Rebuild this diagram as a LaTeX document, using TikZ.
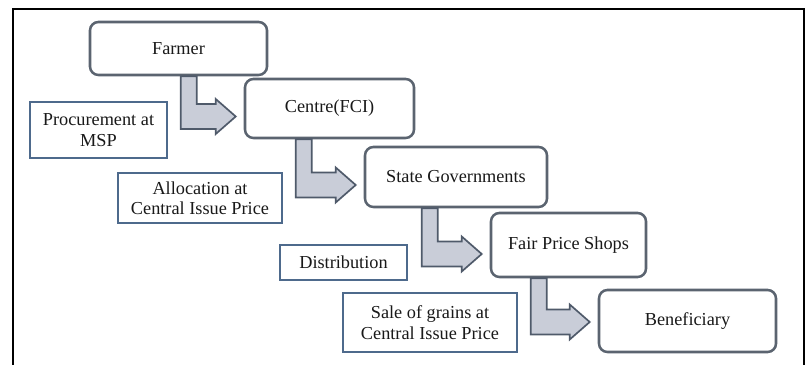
\documentclass[tikz,border=0pt]{standalone}
\usepackage{fontspec}
\setmainfont{Liberation Serif}
\newfontfamily\flowfont{Liberation Serif}
\usetikzlibrary{calc}
\definecolor{boxline}{HTML}{5B6470}
\definecolor{noteline}{HTML}{4E6A8C}
\definecolor{arrowline}{HTML}{4F5A6A}
\definecolor{arrowfill}{HTML}{C9CDD8}
\newcommand{\px}{0.025cm}
% bent arrow: source, target, shaft offset from source, height offset at target
\newcommand{\bentarrow}[4]{%
  \path ($(#1.south west)+(#3,0)$) coordinate (ba-s)
        ($(#2.west)+(-8,#4)$) coordinate (ba-t);
  \draw[bent] (ba-s) -- ++(16,0) |- ($(ba-t)+(-20,-12.5)$) -- ++(0,-5)
    -- (ba-t) -- ($(ba-t)+(-20,17.5)$) -- ++(0,-5) -| (ba-s) -- cycle;
}
\begin{document}
\begin{tikzpicture}[x=\px,y=-\px,
    every node/.style={font=\flowfont\fontsize{13}{14.5}\selectfont,text=black!90},
    stage/.style={draw=boxline,line width=1.8pt,rounded corners=6pt,fill=white,align=center},
    note/.style={draw=noteline,line width=2pt,fill=white,align=center},
    bent/.style={draw=arrowline,fill=arrowfill,line width=1.2pt,line join=miter}]
  \useasboundingbox (0,0) rectangle (808,365);
  \draw[line width=1.4pt] (13,367) -- (13,9) -- (804,9) -- (804,367);

  \node[stage,minimum width=177*\px,minimum height=53*\px] (farmer) at (178.5,48.5) {Farmer};
  \node[stage,minimum width=169*\px,minimum height=59*\px] (centre) at (329.5,108.5) {Centre(FCI)};
  \node[stage,minimum width=182*\px,minimum height=60*\px] (state) at (456,177) {State Governments};
  \node[stage,minimum width=155*\px,minimum height=64*\px] (shops) at (568.5,245) {Fair Price Shops};
  \node[stage,minimum width=177*\px,minimum height=62*\px] (benef) at (687.5,321) {Beneficiary};

  \node[note,minimum width=137*\px,minimum height=56*\px] (procure) at (98.5,130) {Procurement at\\MSP};
  \node[note,minimum width=164*\px,minimum height=50*\px] (alloc) at (200,198) {Allocation at\\Central Issue Price};
  \node[note,minimum width=127*\px,minimum height=35*\px] (distrib) at (343.5,262.5) {Distribution};
  \node[note,minimum width=174*\px,minimum height=59*\px] (sale) at (430,322.5) {Sale of grains at\\Central Issue Price};

  \bentarrow{farmer}{centre}{92}{8}
  \bentarrow{centre}{state}{52}{8}
  \bentarrow{state}{shops}{58}{9}
  \bentarrow{shops}{benef}{41}{1}
\end{tikzpicture}
\end{document}
